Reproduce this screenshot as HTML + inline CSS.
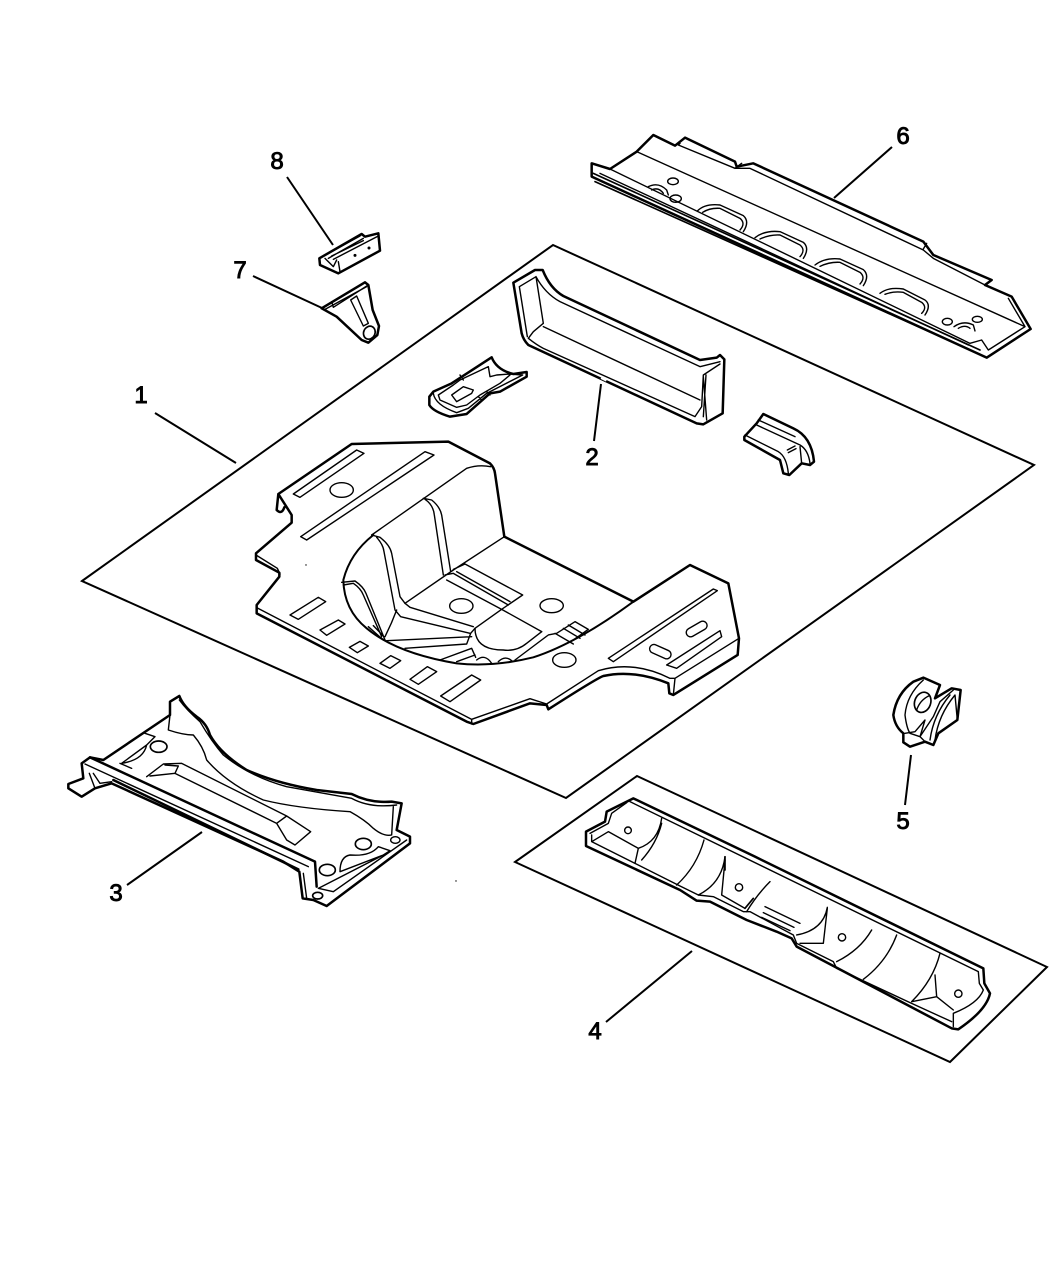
<!DOCTYPE html>
<html><head><meta charset="utf-8"><style>
html,body{margin:0;padding:0;background:#fff}
svg{display:block}
.t{fill:none;stroke:#000;stroke-width:7.5;stroke-linejoin:round;stroke-linecap:round}
.n{fill:none;stroke:#000;stroke-width:4.2;stroke-linejoin:round;stroke-linecap:round}
.l{fill:none;stroke:#000;stroke-width:2}
text{font-family:"Liberation Sans",sans-serif;font-size:24px;fill:#000;stroke:#000;stroke-width:.9;text-anchor:middle}
</style></head><body>
<svg width="1054" height="1277" viewBox="0 0 1054 1277" xmlns="http://www.w3.org/2000/svg">
<rect width="1054" height="1277" fill="#fff"/>
<!-- frames -->
<path class="l" d="M82,581 L553,245 L1034,465 L566,798 Z"/>
<path class="l" d="M515,862 L637,776 L1047,967 L950,1062 Z"/>
<!-- leaders -->
<path class="l" d="M155,413 L236,463 M601,384 L594,441 M202,832 L127,885 M692,951 L606,1022 M911,755 L905,805 M892,147 L834,198 M253,276 L322,308 M287,177 L333,245"/>
<circle cx="306" cy="565" r=".7"/><circle cx="456" cy="881" r=".7"/>
<!-- labels -->
<text x="141" y="403">1</text><text x="592" y="465">2</text><text x="116" y="901">3</text><text x="595" y="1039">4</text>
<text x="903" y="829">5</text><text x="903" y="144">6</text><text x="240" y="278">7</text><text x="277" y="169">8</text>

<!-- part 1 -->
<g transform="translate(240,420) scale(.33333)">
<path class="t" d="M115,222 L335,72 L625,65 L750,130 Q763,143 765,160 L793,350 L1180,545 L1350,435 L1465,490 L1497,655 L1493,705 L1300,825 L1288,820 L1285,790 Q1180,748 1090,768 Q1070,775 925,868 L920,855 L870,850 L700,912 L680,905 L50,580 L50,555 L118,470 L118,458 L48,420 L48,400 L155,308 L155,285 L115,222 L110,270 Q125,285 133,262"/>
<path class="n" d="M50,563 L695,898 L870,836 L920,852 L1075,752 Q1180,720 1290,775 L1305,775 L1497,655 M1305,775 L1300,825 M695,898 L695,912 M48,405 L112,445 L120,462"/>
<path class="n" d="M160,222 L350,90 L372,100 L180,232 Z M182,350 L555,95 L582,105 L200,360 Z"/>
<ellipse class="n" cx="305" cy="210" rx="35" ry="22"/>
<path class="n" d="M150,585 L235,532 L257,545 L175,598 Z M240,630 L295,600 L315,612 L260,646 Z M328,682 L360,664 L385,678 L352,698 Z M420,730 L452,707 L482,722 L450,745 Z M510,778 L562,740 L590,755 L535,793 Z M602,828 L695,765 L722,780 L630,845 Z"/>
<path class="t" d="M400,345 Q330,400 310,480 Q312,570 380,625 Q470,700 650,730 Q760,742 880,712 Q1010,670 1180,545" style="stroke-width:6"/>
<path class="n" d="M395,345 L680,145 Q715,133 752,140"/>
<path class="n" d="M550,235 L575,240 Q600,260 605,285 L632,455 M555,238 Q580,255 583,285 L610,465"/>
<path class="n" d="M395,345 L420,352 Q450,375 455,400 L480,530 L495,550 L510,562 L700,620 M410,352 Q430,375 432,395 L465,570 L482,590 L690,640"/>
<path class="n" d="M305,487 L345,483 Q370,500 378,520 L435,660 M310,495 L340,490 Q362,505 370,525 L425,650 M385,620 L430,660 M400,617 L432,650"/>
<path class="n" d="M440,662 L695,650 M470,570 Q455,610 435,650 M495,685 L680,672 L692,640 L705,625 M600,720 L695,685 L707,712 M650,725 L705,705"/>
<path class="n" d="M705,625 Q705,690 790,690 Q830,695 860,670 L905,635 M825,720 L925,645 L950,640 L1005,605 L1045,628 L1000,660 M945,640 L1000,672 M970,625 L1020,655 M985,615 L1035,645"/>
<path class="n" d="M495,550 L640,450 L793,350 M615,465 L640,460 L805,555 M640,448 L675,432 L848,525 L785,568 M650,455 L810,545 M620,480 L785,568 M705,625 L785,568 L905,635"/>
<ellipse class="n" cx="664" cy="558" rx="35" ry="22"/>
<ellipse class="n" cx="935" cy="557" rx="35" ry="21"/>
<ellipse class="n" cx="973" cy="720" rx="35" ry="22"/>
<path class="n" d="M710,720 Q735,700 755,730 M775,725 Q795,705 815,722"/>
<path class="n" d="M1105,715 L1420,507 L1432,512 L1120,725 Z M1280,735 L1440,632 L1445,650 L1310,745 Z"/>
<rect class="n" x="-34" y="-13" width="68" height="26" rx="13" transform="translate(1370,627) rotate(-30)"/>
<rect class="n" x="-34" y="-13" width="68" height="26" rx="13" transform="translate(1261,695) rotate(24)"/>
</g>

<!-- part 2 -->
<g transform="translate(500,260) scale(.33333)">
<path class="t" d="M40,68 L105,30 L128,30 Q150,85 190,108 L600,300 L650,293 L660,285 L673,298 L668,460 L610,493 L590,490 L85,255 Q70,240 65,220 Z"/>
<path class="n" d="M58,80 L108,50 L130,190 L100,215 L85,235 Q110,255 130,265 L585,470 L605,440 L610,345 L660,312 M58,80 L82,230 M108,50 Q135,100 180,125 L600,320 L660,305 M130,200 L600,420 M610,350 L620,480 M618,345 L610,470"/>
<path d="M304,352 L320,360" stroke="#fff" stroke-width="10" fill="none"/>
</g>

<!-- small bracket under 2 -->
<g transform="translate(500,260) scale(.33333)">
<path class="t" d="M733,530 L770,490 L790,462 L880,505 Q935,530 942,605 L930,615 L905,610 L868,645 L850,640 L840,600 L733,540 Z"/>
<path class="n" d="M770,495 L900,555 Q925,570 930,610 M775,480 L885,530 M735,525 L835,575 Q860,590 865,640 M862,570 L885,558 M865,578 L888,566 M905,610 L900,560"/>
</g>

<!-- small plate -->
<g transform="translate(300,220) scale(.33333)">
<path class="t" d="M388,530 L400,515 L455,490 L575,412 Q590,450 640,462 L680,456 L680,470 L600,515 L570,520 L500,582 L450,590 Q400,575 388,555 Z"/>
<path class="n" d="M400,520 Q405,555 470,578 L505,565 L560,520 L668,465 L630,462 L590,465 L570,470 L565,440 L480,480 L460,495 L415,525 L420,540 L470,562 L500,555 L540,525 L600,490 L630,465 M455,525 L490,500 L520,510 L515,520 L470,545 Z M480,465 L490,480 M535,530 L545,540 M560,515 L570,525"/>
</g>

<!-- part 7, 8 -->
<g transform="translate(300,220) scale(.33333)">
<path class="t" d="M65,265 L195,187 L205,195 L218,270 L237,318 L232,345 L205,368 L185,360 L110,290 Z"/>
<path class="n" d="M95,245 L100,262 L205,195 M75,268 L200,200"/>
<path class="n" d="M152,240 L170,228 L205,310 L190,318 Z"/>
<ellipse class="t" cx="208" cy="338" rx="17" ry="20" transform="rotate(25 208 338)" style="stroke-width:5"/>
<path class="t" d="M58,115 L185,42 L195,50 L235,40 L240,92 L115,160 L60,135 Z"/>
<path class="n" d="M70,108 L180,48 M85,115 L190,55 M100,118 L235,48 M115,125 L120,155 M75,115 L100,140 L110,120 M95,108 L190,62"/>
<circle cx="165" cy="106" r="4.5"/><circle cx="207" cy="84" r="4.5"/>
</g>

<!-- part 3 -->
<g transform="translate(50,680) scale(.33333)">
<path class="t" d="M360,65 L388,48 Q400,80 440,110 Q470,130 480,165 Q510,220 590,270 Q680,310 800,330 L905,342 Q960,370 1025,365 L1055,370 L1040,450 L1080,470 L1080,490 L830,678 L790,660 L758,655 L748,575 L700,545 L185,310 L135,325 L95,350 L55,325 L55,312 L100,295 L95,250 L120,232 L160,240 L360,105 Z"/>
<path class="t" d="M120,232 L795,545 L800,620 M190,300 L745,568"/>
<path class="n" d="M105,252 L775,560 M118,280 L135,325 M130,280 L150,310 L185,305 M760,580 L770,655"/>
<path class="n" d="M388,60 Q410,90 450,125 Q485,185 520,225 Q600,290 710,320 L905,355 Q960,385 1040,375 M360,105 L355,150 Q400,165 430,165 Q460,200 470,240 Q530,310 640,360 Q740,385 900,395 Q945,420 970,445 Q1000,470 1025,465 L1030,380"/>
<path class="n" d="M285,160 L315,170 L290,195 Q280,240 215,250 L290,195 M210,250 L245,265"/>
<path class="n" d="M290,290 L340,252 L395,250 L710,408 L782,455 L735,495 L710,480 L680,430 L375,280 L385,258 L345,255 M300,288 L375,280 M710,408 L680,430"/>
<ellipse class="n" cx="326" cy="200" rx="25" ry="17" style="stroke-width:5"/>
<ellipse class="n" cx="940" cy="492" rx="24" ry="17" style="stroke-width:5"/>
<ellipse class="n" cx="832" cy="570" rx="24" ry="17" style="stroke-width:5"/>
<ellipse class="n" cx="1036" cy="480" rx="14" ry="10"/>
<ellipse class="t" cx="803" cy="647" rx="15" ry="10" style="stroke-width:5"/>
<path class="n" d="M870,575 Q870,530 900,525 Q960,530 985,500 L1020,512 L1000,525 L805,625 L850,635 L1070,480 M1000,525 L870,575"/>
</g>

<!-- part 4 -->
<g transform="translate(570,780) scale(.33333)">
<path class="t" d="M48,155 L105,125 L110,95 L150,75 L190,55 L555,230 L1240,565 L1243,610 L1260,640 Q1250,690 1165,748 L1145,745 L680,500 L665,475 L620,455 L530,420 L500,405 L420,365 L380,362 L330,330 L48,198 Z"/>
<path class="n" d="M180,65 L1225,575 L1228,610 L1240,630 Q1225,670 1150,700 L1150,740 M65,165 L65,185 L195,250 L330,318 L385,345 L430,350 L520,395 L540,395 L670,465 L680,490 L790,545 L800,565 L1020,668 L1145,725 M60,160 L115,130 L125,100 L170,68 M65,185 L115,155 L205,205"/>
<path class="n" d="M275,115 Q265,185 205,205 L195,250 M215,240 Q260,190 275,130 M402,180 Q380,260 320,315 M465,230 Q455,310 385,345 M465,240 L455,345 L525,385 M600,305 Q560,345 530,395 M585,380 L690,430 M580,398 L672,442 M575,412 L660,452 M772,382 Q760,450 680,465 M772,385 L760,490 L690,490 M905,450 Q870,510 800,545 M980,465 Q950,545 880,598 M1110,520 Q1090,600 1025,665 M1095,585 L1100,650 L1025,665 M1100,650 L1150,690"/>
<path class="t" d="M465,230 L465,270 M525,385 L550,355" style="stroke-width:5"/>
<circle class="n" cx="174" cy="151" r="10"/><circle class="n" cx="507" cy="322" r="11"/><circle class="n" cx="816" cy="472" r="11"/><circle class="n" cx="1165" cy="641" r="11"/>
</g>

<!-- part 5 -->
<g transform="translate(870,665) scale(.33333)">
<path class="t" d="M130,50 L160,38 L210,60 L195,100 L245,70 L272,75 L262,165 L205,205 L190,240 L165,230 L120,245 L100,232 L100,205 Q75,185 70,150 Q80,85 130,50 Z"/>
<path class="n" d="M160,45 Q110,90 105,150 Q110,190 120,205 L150,215 L190,155 L210,110 L250,75 M195,225 Q205,150 255,90 L262,165 M180,225 Q190,150 240,90 M105,205 L135,200 L165,165 L150,215 L165,230"/>
<ellipse class="t" cx="158" cy="112" rx="24" ry="31" transform="rotate(20 158 112)" style="stroke-width:5"/>
<path class="n" d="M140,135 Q150,105 178,92"/>
</g>

<!-- part 6 -->
<g transform="translate(580,125) scale(.33333)">
<path class="t" d="M35,115 L90,132 L170,80 L220,30 L285,62 L315,38 L465,110 L470,125 L520,115 L1030,350 L1060,390 L1235,465 L1215,480 L1295,515 L1352,612 L1220,698 L35,155 Z"/>
<path class="t" d="M40,145 L1200,675 M45,170 L1215,695" style="stroke-width:5"/>
<path class="n" d="M170,80 L1335,605 L1225,675 L1205,645 L1170,655 L90,132 M1285,520 L1335,605 M300,55 L295,60 L465,130 L510,130 L1030,375 L1060,400 L1215,480 M465,130 L485,115 M1030,372 L1040,355"/>
<path class="n" d="M60,145 L1165,660"/>
<path class="n" d="M205,185 Q235,170 260,195 L265,210 M215,195 Q235,185 250,205"/>
<path class="n" d="M352,258 Q375,235 420,240 L490,272 Q510,290 490,320 M368,262 Q390,248 420,250 L480,280 Q498,295 480,315"/>
<path class="n" d="M525,338 Q555,315 600,320 L670,352 Q690,370 670,400 M540,342 Q570,328 600,330 L660,360 Q678,375 660,395"/>
<path class="n" d="M705,420 Q735,397 780,402 L850,434 Q870,452 850,482 M720,424 Q750,410 780,412 L840,442 Q858,457 840,477"/>
<path class="n" d="M900,505 Q925,485 970,492 L1035,525 Q1055,540 1035,570 M915,508 Q940,498 970,502 L1025,532 Q1043,547 1025,565"/>
<ellipse class="n" cx="279" cy="169" rx="16" ry="10"/>
<ellipse class="n" cx="287" cy="221" rx="17" ry="11"/>
<ellipse class="n" cx="1102" cy="590" rx="15" ry="10"/>
<ellipse class="n" cx="1192" cy="583" rx="15" ry="9"/>
<path class="n" d="M1122,605 Q1150,585 1180,600 L1185,618 M1135,610 Q1155,598 1170,610"/>
</g>
</svg>
</body></html>
